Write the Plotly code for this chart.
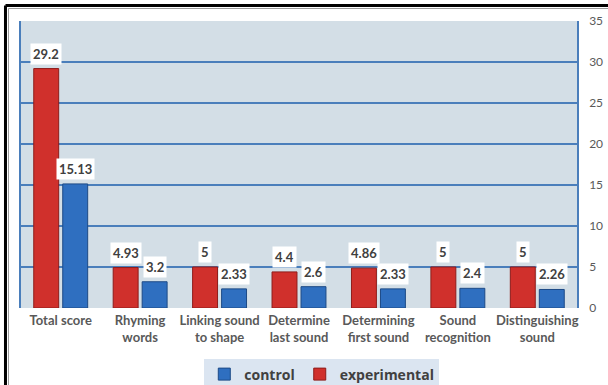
import plotly.graph_objects as go

categories = ["Total score", "Rhyming<br>words", "Linking sound<br>to shape", "Determine<br>last sound",
              "Determining<br>first sound", "Sound<br>recognition", "Distinguishing<br>sound"]
experimental = [29.2, 4.93, 5, 4.4, 4.86, 5, 5]
control = [15.13, 3.2, 2.33, 2.6, 2.33, 2.4, 2.26]
exp_labels = ["29.2", "4.93", "5", "4.4", "4.86", "5", "5"]
ctl_labels = ["15.13", "3.2", "2.33", "2.6", "2.33", "2.4", "2.26"]
y_ticks = [0, 5, 10, 15, 20, 25, 30, 35]

FONT = "Lato"
fig = go.Figure()
fig.add_trace(go.Bar(x=categories, y=experimental, name="experimental",
                     marker=dict(color="#d0302c", line=dict(color="#8e1c1a", width=1))))
fig.add_trace(go.Bar(x=categories, y=control, name="control",
                     marker=dict(color="#2f6fc0", line=dict(color="#1d4a86", width=1))))

annotations = []
for cat, v, t in zip(categories, experimental, exp_labels):
    annotations.append(dict(x=cat, y=v, text="<b>%s</b>" % t, xref="x", yref="y", showarrow=False,
                            xshift=-14.5, yshift=4, yanchor="bottom", bgcolor="white", borderpad=2,
                            font=dict(family=FONT, size=13, color="#404040")))
for cat, v, t in zip(categories, control, ctl_labels):
    annotations.append(dict(x=cat, y=v, text="<b>%s</b>" % t, xref="x", yref="y", showarrow=False,
                            xshift=14.5, yshift=4, yanchor="bottom", bgcolor="white", borderpad=2,
                            font=dict(family=FONT, size=13, color="#404040")))

shapes = [
    dict(type="line", xref="paper", yref="paper", x0=-0.0279, x1=1.06, y0=1.054, y1=1.054,
         line=dict(color="black", width=3)),
    dict(type="line", xref="paper", yref="paper", x0=-0.0225, x1=1.06, y0=1.0436, y1=1.0436,
         line=dict(color="#9a9a9a", width=1)),
    dict(type="line", xref="paper", yref="paper", x0=-0.0279, x1=-0.0279, y0=1.054, y1=-0.3,
         line=dict(color="black", width=3)),
    dict(type="line", xref="paper", yref="paper", x0=-0.0225, x1=-0.0225, y0=1.0436, y1=-0.3,
         line=dict(color="#9a9a9a", width=1)),
]

fig.update_layout(
    width=608, height=385,
    margin=dict(l=21, r=31, t=21, b=77, autoexpand=False),
    paper_bgcolor="white", plot_bgcolor="#d3dee6",
    barmode="group", bargap=0.27, bargroupgap=0.14,
    font=dict(family=FONT),
    showlegend=True,
    legend=dict(orientation="h", x=0.541, xanchor="center", y=-0.176, yanchor="top",
                traceorder="reversed", bgcolor="#dbe5f1",
                font=dict(family="Open Sans", size=14, color="#404040", weight="bold"),
                itemwidth=30, tracegroupgap=0),
    annotations=annotations, shapes=shapes,
)
fig.update_xaxes(showgrid=False, showline=False, ticks="", ticklabelstandoff=3,
                 tickfont=dict(family=FONT, size=13, color="#595959", weight="bold"))
fig.update_yaxes(side="right", range=[0, 35], tickvals=y_ticks, showgrid=True,
                 gridcolor="#4a7ebb", gridwidth=2, zeroline=False,
                 showline=True, linecolor="#4a7ebb", linewidth=1.5, mirror=True,
                 ticks="outside", ticklen=8, tickcolor="rgba(0,0,0,0)",
                 tickfont=dict(family=FONT, size=12, color="#595959"))

fig.write_html("out.html")
